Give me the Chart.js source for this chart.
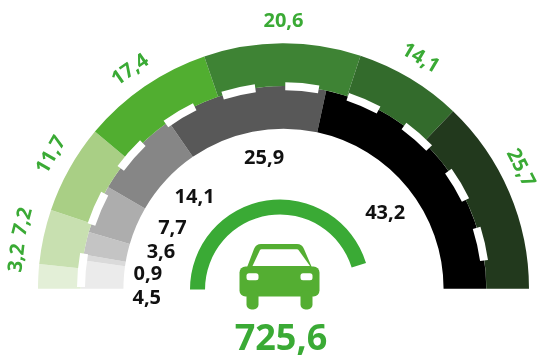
<!DOCTYPE html>
<html><head><meta charset="utf-8">
<style>html,body{margin:0;padding:0;background:#fff;overflow:hidden}
canvas{position:absolute;left:0;top:0}</style>
<script src="https://cdn.jsdelivr.net/npm/chart.js@4"></script>
</head><body>
<canvas id="gauge" width="540" height="358"></canvas>
<canvas id="meter" width="540" height="358"></canvas>
<script>
const innerValues=[4.5,0.9,3.6,7.7,14.1,25.9,43.2];
const outerValues=[3.2,7.2,11.7,17.4,20.6,14.1,25.7];
const innerLabels=['4,5','0,9','3,6','7,7','14,1','25,9','43,2'];
const outerLabels=['3,2','7,2','11,7','17,4','20,6','14,1','25,7'];
const innerColors=['#ebebeb','#dadada','#c4c4c4','#adadad','#868686','#585858','#000000'];
const outerColors=['#e3efd7','#c8e0b0','#a9cf85','#51ae30','#3e8334','#336b2c','#22391d'];
const meterValues=[90.5,9.5];
const totalLabel='725,6';
const GREEN='#3aaa35';
const FONT='"Noto Sans"';
// label placement: polar angle in degrees from the left baseline, radius from centre
const innerLabelPlace=[[-3.5,137],[6.3,136.5],[16.8,128],[29,127],[46,128],[81.6,133],[143.2,127]];
const outerLabelPlace=[[6.6,268],[14.4,269],[29.9,268],[55,267],[90,267],[120.7,268],[153,266]];

const labelPlugin={id:'labels',afterDatasetsDraw(chart){
  const c=chart.ctx,a=chart.getDatasetMeta(0).data[0],cx=a.x,cy=a.y;
  // dashed white ring between both bands
  c.save();c.strokeStyle='#fff';c.lineWidth=8;c.lineCap='butt';
  for(let k=0;k<10;k++){
    c.beginPath();
    c.arc(cx,cy,202.5,Math.PI+(0.5+18*k)*Math.PI/180,Math.PI+(10+18*k)*Math.PI/180);
    c.stroke();
  }
  c.restore();
  c.save();c.textAlign='center';c.textBaseline='middle';c.font='700 20px '+FONT;
  innerLabels.forEach((t,i)=>{
    const [d,r]=innerLabelPlace[i],th=d*Math.PI/180;
    c.fillStyle='#111';c.fillText(t,cx-r*Math.cos(th),cy-r*Math.sin(th)+1);
  });
  outerLabels.forEach((t,i)=>{
    const [d,r]=outerLabelPlace[i],th=d*Math.PI/180;
    c.save();c.translate(cx-r*Math.cos(th),cy-r*Math.sin(th));
    c.rotate((d-90)*Math.PI/180);c.fillStyle=GREEN;c.fillText(t,0,0);c.restore();
  });
  c.restore();
}};

new Chart(document.getElementById('gauge'),{type:'doughnut',
  data:{labels:innerLabels,datasets:[
    {data:outerValues,backgroundColor:outerColors,borderWidth:0},
    {data:innerValues,backgroundColor:innerColors,borderWidth:0}]},
  options:{responsive:false,animation:false,rotation:-90,circumference:180,cutout:'65.2%',
    layout:{padding:{left:38,right:11,top:43,bottom:69}},
    plugins:{legend:{display:false},tooltip:{enabled:false}}},
  plugins:[labelPlugin]});

function rr(c,x,y,w,h,r){c.beginPath();c.roundRect(x,y,w,h,r);}
const carPlugin={id:'car',afterDatasetsDraw(chart){
  const c=chart.ctx;c.save();
  c.fillStyle='#54ae32';
  // roof and cabin
  c.beginPath();c.moveTo(246,270);c.lineTo(254,249);c.quadraticCurveTo(256,244,261,244);
  c.lineTo(297,244);c.quadraticCurveTo(302,244,304,249);c.lineTo(313,270);c.closePath();c.fill();
  rr(c,239.5,266.5,80,30,6);c.fill();
  rr(c,246.5,290,12,19.5,5);c.fill();
  rr(c,300.5,290,12,19.5,5);c.fill();
  c.fillStyle='#fff';
  c.beginPath();c.moveTo(252.5,266);c.lineTo(260,250);c.quadraticCurveTo(260.5,249.3,261.5,249.3);
  c.lineTo(297,249.3);c.quadraticCurveTo(298,249.3,298.5,250);c.lineTo(310,266);c.closePath();c.fill();
  rr(c,246.5,273.3,12,7,2.5);c.fill();
  rr(c,300.5,273.3,12,7,2.5);c.fill();
  c.fillStyle=GREEN;c.textAlign='center';c.textBaseline='middle';c.font='700 36px '+FONT;
  c.fillText(totalLabel,281,340);
  c.restore();
}};

new Chart(document.getElementById('meter'),{type:'doughnut',
  data:{datasets:[{data:meterValues,backgroundColor:[GREEN,'rgba(0,0,0,0)'],borderWidth:0}]},
  options:{responsive:false,animation:false,rotation:-90,circumference:180,cutout:'83.3%',
    layout:{padding:{left:190,right:170,top:199,bottom:68}},
    plugins:{legend:{display:false},tooltip:{enabled:false}}},
  plugins:[carPlugin]});
</script>
</body></html>
